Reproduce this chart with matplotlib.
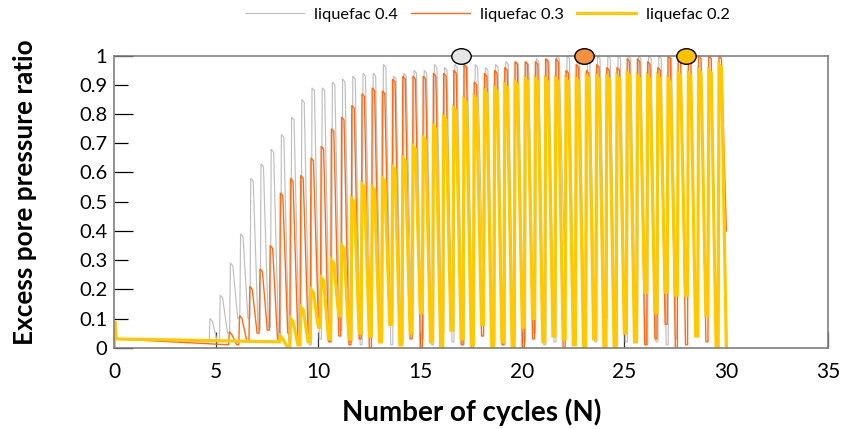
import numpy as np
import matplotlib.pyplot as plt
from matplotlib.ticker import MultipleLocator, FuncFormatter
from matplotlib.path import Path
from matplotlib.transforms import Affine2D

plt.rcParams['font.family'] = ['Lato', 'DejaVu Sans']

# half-cycle peak / trough values of the excess pore pressure ratio
# liquefac 0.4
start_04 = 4.65
base_04 = [(0.0, 0.0), (0.05, 0.03), (4.65, 0.02)]
peaks_04 = [0.10, 0.18, 0.29, 0.39, 0.58, 0.63, 0.68, 0.73, 0.79, 0.85,
            0.89, 0.89, 0.91, 0.92, 0.93, 0.94, 0.94, 0.97, 0.93, 0.94,
            0.95, 0.95, 0.97, 0.96, 0.97, 0.97, 0.97, 0.96, 0.97, 0.98,
            0.98, 0.98, 0.99, 0.99, 1.00, 1.00, 1.00, 0.99, 1.00, 1.00,
            1.00, 1.00, 1.00, 1.00, 1.00, 1.00]
troughs_04 = [0.02, 0.05, 0.10, 0.10, 0.06, 0.07, 0.03, 0.02, 0.05, 0.01,
              0.03, 0.02, 0.06, 0.02, 0.01, 0.10, 0.03, 0.01, 0.02, 0.15,
              0.03, 0.01, 0.05, 0.02, 0.01, 0.04, 0.30, 0.02, 0.01, 0.03,
              0.02, 0.05, 0.01, 0.02, 0.35, 0.01, 0.03, 0.02, 0.10, 0.01,
              0.02, 0.05, 0.01, 0.02, 0.01, 0.03]

# liquefac 0.3
start_03 = 5.6
base_03 = [(0.0, 0.0), (0.05, 0.03), (5.6, 0.01)]
peaks_03 = [0.055, 0.11, 0.21, 0.27, 0.35, 0.53, 0.58, 0.59, 0.65, 0.69,
            0.75, 0.79, 0.83, 0.87, 0.89, 0.88, 0.92, 0.93, 0.93, 0.93,
            0.94, 0.94, 0.95, 0.97, 0.91, 0.94, 0.95, 0.96, 0.98, 0.98,
            0.98, 0.99, 0.99, 0.95, 0.97, 0.95, 0.97, 0.96, 0.96, 0.99,
            0.99, 0.98, 0.96, 1.00, 1.00, 1.00, 1.00, 1.00, 1.00]
troughs_03 = [0.01, 0.02, 0.05, 0.06, 0.03, 0.05, 0.03, 0.05, 0.10, 0.02,
              0.04, 0.01, 0.03, 0.00, 0.02, 0.08, 0.01, 0.03, 0.00, 0.05,
              0.02, 0.12, 0.01, 0.00, 0.04, 0.02, 0.01, 0.06, 0.00, 0.03,
              0.02, 0.08, 0.00, 0.01, 0.05, 0.03, 0.00, 0.02, 0.10, 0.05,
              0.01, 0.03, 0.08, 0.00, 0.01, 0.04, 0.02, 0.01, 0.40]

# liquefac 0.2
start_02 = 8.1
base_02 = [(0.0, 0.0), (0.03, 0.09), (0.1, 0.03), (8.1, 0.02)]
peaks_02 = [0.04, 0.10, 0.14, 0.20, 0.24, 0.30, 0.35, 0.51, 0.56, 0.55,
            0.58, 0.62, 0.65, 0.69, 0.72, 0.76, 0.79, 0.82, 0.85, 0.86,
            0.88, 0.89, 0.90, 0.91, 0.92, 0.92, 0.92, 0.92, 0.92, 0.92,
            0.93, 0.93, 0.93, 0.93, 0.94, 0.93, 0.93, 0.93, 0.92, 0.94,
            0.94, 0.95, 0.95, 0.97]
troughs_02 = [0.00, 0.01, 0.02, 0.07, 0.03, 0.11, 0.03, 0.05, 0.04, 0.02,
              0.08, 0.01, 0.05, 0.12, 0.02, 0.00, 0.06, 0.03, 0.01, 0.08,
              0.00, 0.02, 0.00, 0.07, 0.10, 0.02, 0.04, 0.03, 0.01, 0.00,
              0.03, 0.00, 0.00, 0.05, 0.02, 0.19, 0.12, 0.19, 0.18, 0.18,
              0.04, 0.11, 0.00, 0.00]

labels = ['liquefac 0.4', 'liquefac 0.3', 'liquefac 0.2']
liq_cycle = [17, 23, 28]
colours = ['#BFBFBF', '#FF6A13', '#FFC800']
marker_colours = ['#E7E6E6', '#F4913E', '#FFC000']
widths = [0.85, 1.0, 2.3]


def wave(start, base, peaks, troughs):
    t = [p[0] for p in base]
    u = [p[1] for p in base]
    prev = base[-1][1]
    for k in range(len(peaks)):
        s = start + 0.5 * k
        if k > 0:
            t.append(s)
            u.append(prev)
        t += [s + 0.04, s + 0.16, s + 0.4]
        u += [peaks[k], peaks[k] - 0.01, troughs[k]]
        prev = troughs[k]
    return t, u


series = [wave(start_04, base_04, peaks_04, troughs_04),
          wave(start_03, base_03, peaks_03, troughs_03),
          wave(start_02, base_02, peaks_02, troughs_02)]

fig = plt.figure(figsize=(8.43, 4.29), dpi=100)
ax = fig.add_axes([0.1356, 0.1895, 0.847, 0.6807])

for i in range(3):
    ax.plot(series[i][0], series[i][1], color=colours[i], lw=widths[i],
            label=labels[i], solid_joinstyle='miter')

ellipse = Path.unit_circle().transformed(Affine2D().scale(1.25, 1.0))
for i in range(3):
    ax.plot([liq_cycle[i]], [1.0], marker=ellipse, ms=14, mfc=marker_colours[i],
            mec='black', mew=1.0, ls='none', clip_on=False, zorder=5)

ax.set_xlim(0, 35)
ax.set_ylim(0, 1)
ax.xaxis.set_major_locator(MultipleLocator(5))
ax.yaxis.set_major_locator(MultipleLocator(0.2))
ax.yaxis.set_minor_locator(MultipleLocator(0.1))
fmt = FuncFormatter(lambda v, p: '%g' % round(v, 1))
ax.yaxis.set_major_formatter(fmt)
ax.yaxis.set_minor_formatter(fmt)

ax.tick_params(axis='y', which='major', direction='in', length=13.5, width=0.9,
               color='black', labelsize=14.5, pad=5)
ax.tick_params(axis='y', which='minor', direction='in', length=10, width=0.9,
               color='black', labelsize=14.5, pad=5)
ax.tick_params(axis='x', direction='in', length=11.5, width=0.9, color='#333333',
               labelsize=15, pad=10)
for side in ['left', 'right', 'top', 'bottom']:
    ax.spines[side].set_color('#7F7F7F')
    ax.spines[side].set_linewidth(1.2)

ax.set_xlabel('Number of cycles (N)', fontsize=20, fontweight='bold')
ax.set_ylabel('Excess pore pressure ratio', fontsize=18.8, fontweight='bold')
ax.xaxis.set_label_coords(0.5, -0.172)
ax.yaxis.set_label_coords(-0.108, 0.533)

fig.legend(loc='center', bbox_to_anchor=(0.578, 0.966), ncol=3, frameon=False,
           fontsize=11.8, handlelength=3.6, handletextpad=0.6, columnspacing=0.8)

plt.savefig('out.png')
